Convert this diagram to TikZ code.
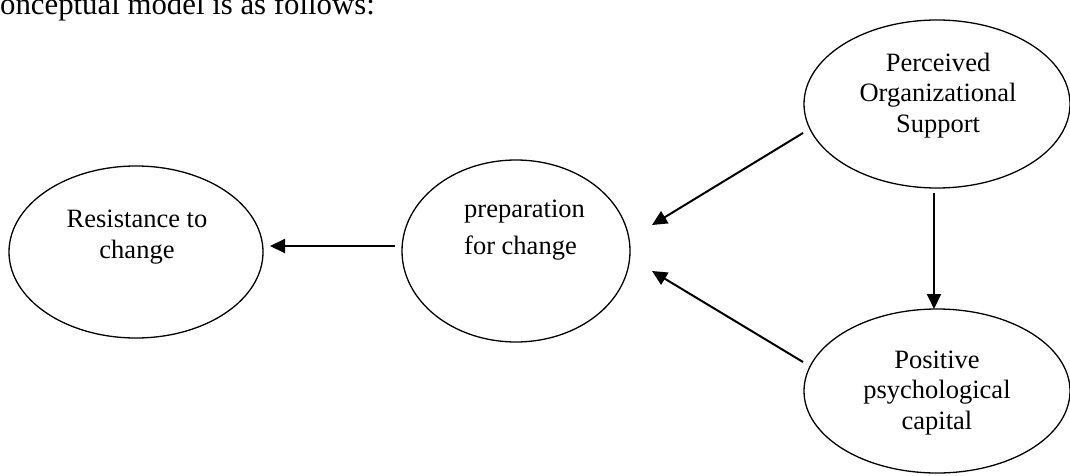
\documentclass[tikz,border=0pt]{standalone}
\usepackage{fontspec}
\setmainfont{Liberation Serif}
\usetikzlibrary{arrows.meta,shapes.geometric}
\begin{document}
\begin{tikzpicture}[x=1pt,y=-1pt,
  oval/.style={draw, ellipse, line width=1.3pt, inner sep=0pt},
  lbl/.style={font=\fontsize{26.5}{30.5}\selectfont, inner sep=0pt, anchor=base},
  conn/.style={line width=2pt, -{Triangle[length=15pt,width=14pt]}}]
\useasboundingbox (0,0) rectangle (1070,476);
% heading fragment
\node[font=\fontsize{30.8}{34}\selectfont, inner sep=0pt, anchor=base east] (head) at (375,15) {onceptual model is as follows:};
% ellipses
\node[oval, minimum width=254pt, minimum height=172pt] (res) at (136,252) {};
\node[oval, minimum width=228pt, minimum height=182pt] (prep) at (516,251) {};
\node[oval, minimum width=266pt, minimum height=168pt] (pos) at (937,104) {};
\node[oval, minimum width=266pt, minimum height=164pt] (ppc) at (937,391) {};
% labels (base anchor = baseline of the last line)
\node[lbl, align=center] (reslbl) at (137,258) {Resistance to\\change};
\node[lbl, align=left, anchor=base west] (preplbl) at (464,254) {preparation\\[6.5pt]for change};
\node[lbl, align=center] (poslbl) at (938,132) {Perceived\\Organizational\\Support};
\node[lbl, align=center] (ppclbl) at (937,429) {Positive\\psychological\\capital};
% connector ends
\coordinate (h1) at (395,246);
\coordinate (h2) at (270,246);
\coordinate (u1) at (803,133);
\coordinate (u2) at (652,225);
\coordinate (l1) at (803,362);
\coordinate (l2) at (652,271);
\coordinate (v1) at (934,193);
\coordinate (v2) at (934,309);
\draw[conn] (h1) -- (h2);
\draw[conn] (u1) -- (u2);
\draw[conn] (l1) -- (l2);
\draw[conn] (v1) -- (v2);
\end{tikzpicture}
\end{document}
